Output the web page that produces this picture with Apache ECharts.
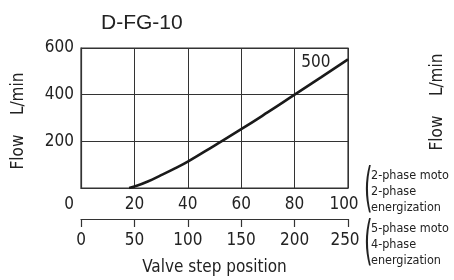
<!DOCTYPE html>
<html>
<head>
<meta charset="utf-8">
<script src="https://cdn.jsdelivr.net/npm/echarts@6/dist/echarts.min.js"></script>
<style>
  html, body { margin: 0; padding: 0; background: #fff; }
  #chart { width: 454px; height: 280px; }
</style>
</head>
<body>
<div id="chart"></div>
<script>
// valve step position (2-phase scale, 0-100) vs flow
const stepPos = [18, 20, 25, 30, 35, 40, 50, 60, 70, 80, 90, 100];
const flow500 = [0, 6, 28, 55, 83, 113, 182, 252, 325, 400, 475, 551];
const flowTicks = [0, 200, 400, 600];
const stepTicks2ph = [0, 20, 40, 60, 80, 100];
const stepTicks5ph = [0, 50, 100, 150, 200, 250];

const NARROW = "'DejaVu Sans Condensed', 'Liberation Sans', sans-serif";
const FS = 17;
const INK = '#222';

let chart = echarts.init(document.getElementById('chart'));

let option = {
  animation: false,
  title: {
    text: 'D-FG-10',
    left: 96,
    top: 8,
    textStyle: { fontFamily: 'Liberation Sans, Arial, sans-serif', fontSize: 21, fontWeight: 'normal', color: INK }
  },
  grid: {
    left: 81, right: 106, top: 48, height: 140,
    show: true, borderColor: '#333', borderWidth: 1.2
  },
  xAxis: [
    {
      type: 'value',
      min: stepTicks2ph[0],
      max: stepTicks2ph[stepTicks2ph.length - 1],
      interval: 20,
      axisLine: { show: true, lineStyle: { color: '#333', width: 1.2 } },
      axisTick: { show: false },
      axisLabel: {
        margin: 8,
        fontFamily: NARROW, fontSize: FS, color: INK,
        formatter: v => v === 0 ? '{z|0}' : (v === 100 ? '{h|100}' : String(v)),
        rich: {
          z: { fontFamily: NARROW, fontSize: FS, color: INK, padding: [0, 24, 0, 0] },
          h: { fontFamily: NARROW, fontSize: FS, color: INK, padding: [0, 8, 0, 0] }
        }
      },
      splitLine: { show: true, lineStyle: { color: '#333', width: 1 } }
    },
    {
      type: 'value',
      position: 'bottom',
      offset: 31,
      min: stepTicks5ph[0],
      max: stepTicks5ph[stepTicks5ph.length - 1],
      interval: 50,
      axisLine: { show: true, onZero: false, lineStyle: { color: '#333', width: 1.2 } },
      axisTick: { show: true, length: 8, lineStyle: { color: '#333', width: 1.2 } },
      axisLabel: {
        margin: 13, fontFamily: NARROW, fontSize: FS, color: INK,
        formatter: v => v === 250 ? '{h|250}' : String(v),
        rich: { h: { fontFamily: NARROW, fontSize: FS, color: INK, padding: [0, 6, 0, 0] } }
      },
      splitLine: { show: false },
      name: 'Valve step position',
      nameLocation: 'middle',
      nameGap: 40,
      nameTextStyle: { fontFamily: NARROW, fontSize: FS, color: INK }
    }
  ],
  yAxis: {
    type: 'value',
    min: flowTicks[0],
    max: flowTicks[flowTicks.length - 1],
    interval: 200,
    axisLine: { show: true, lineStyle: { color: '#333', width: 1.2 } },
    axisTick: { show: false },
    axisLabel: {
      margin: 7,
      fontFamily: NARROW, fontSize: FS, color: INK,
      formatter: v => v === 0 ? '' : String(v)
    },
    splitLine: { show: true, lineStyle: { color: '#333', width: 1 } },
    name: 'Flow    L/min',
    nameLocation: 'middle',
    nameGap: 54,
    nameTextStyle: { fontFamily: NARROW, fontSize: FS, color: INK, padding: [0, 6, 0, 0] }
  },
  series: [
    {
      type: 'line',
      xAxisIndex: 0,
      data: stepPos.map((x, i) => [x, flow500[i]]),
      smooth: true,
      showSymbol: false,
      lineStyle: { color: '#1a1a1a', width: 2.6 },
      markPoint: {
        symbol: 'circle',
        symbolSize: 0,
        label: {
          show: true, position: 'inside',
          formatter: '500',
          fontFamily: NARROW, fontSize: FS, color: INK
        },
        data: [{ coord: [88, 536] }]
      }
    }
  ],
  graphic: [
    // cut-off axis name of the neighbouring chart
    {
      type: 'text', x: 438, y: 102, rotation: Math.PI / 2,
      style: { text: 'Flow    L/min', fontFamily: NARROW, fontSize: FS, fill: INK, align: 'center', verticalAlign: 'middle' }
    },
    {
      type: 'text', x: 364, y: 192,
      scaleX: 0.45,
      style: { text: '(', fontFamily: NARROW, fontSize: 54, fill: INK, verticalAlign: 'middle' }
    },
    {
      type: 'text', x: 371, y: 192,
      style: { text: '2-phase moto\n2-phase\nenergization', fontFamily: NARROW, fontSize: 12.5, lineHeight: 16, fill: INK, verticalAlign: 'middle' }
    },
    {
      type: 'text', x: 364, y: 245,
      scaleX: 0.45,
      style: { text: '(', fontFamily: NARROW, fontSize: 54, fill: INK, verticalAlign: 'middle' }
    },
    {
      type: 'text', x: 371, y: 245,
      style: { text: '5-phase moto\n4-phase\nenergization', fontFamily: NARROW, fontSize: 12.5, lineHeight: 16, fill: INK, verticalAlign: 'middle' }
    }
  ]
};

chart.setOption(option);
</script>
</body>
</html>
